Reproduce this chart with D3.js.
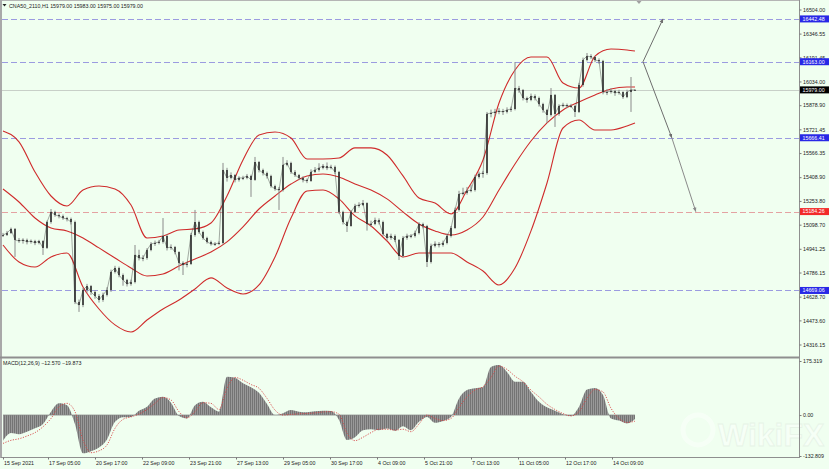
<!DOCTYPE html>
<html><head><meta charset="utf-8">
<script src="https://cdn.jsdelivr.net/npm/d3@7/dist/d3.min.js"></script>
<style>
body{margin:0;background:#f0fff0;}
svg{display:block;}
text{font-family:"Liberation Sans",Arial,sans-serif;}
</style></head>
<body><svg id="c" width="829" height="469"></svg>
<script>
// ---------- DATA (H1 candles resampled every 2 bars) ----------
const symbolName = "CNA50_2110,H1";
const firstOpen = 15025;
const closes = [15031,15044,15071,14999,14992,14999,14986,14992,14979,14992,14947,15116,15182,15162,15155,15142,15136,15116,14594,14574,
14672,14698,14659,14633,14607,14640,14672,14790,14816,14770,14738,14711,14724,14901,14881,14881,14933,14973,14979,14986,
15025,14947,14953,14920,14849,14836,14842,15031,15116,15051,15012,14986,14973,14973,14979,15456,15404,15423,15391,15404,
15404,15417,15391,15508,15456,15436,15417,15351,15332,15325,15489,15502,15443,15423,15404,15391,15384,15443,15456,15469,
15482,15469,15476,15443,15182,15116,15090,15182,15221,15227,15240,15103,15103,15129,15116,15038,15012,15025,14999,14894,
15012,15025,15025,15044,15103,15090,14855,14960,14973,14966,14979,15025,15077,15195,15299,15306,15319,15325,15410,15430,
15436,15822,15828,15835,15841,15835,15848,15854,15991,15978,15926,15913,15939,15926,15887,15848,15815,15946,15822,15874,
15880,15874,15874,15835,16011,16174,16200,16194,16174,16168,15965,15965,15972,15959,15965,15932,15965,15979,15979];
const highs = [15045,15058,15080,15077,15012,15010,15008,15002,15000,15000,14998,15125,15201,15190,15172,15165,15150,15145,15125,14610,
14685,14712,14705,14670,14645,14655,14690,14805,14830,14825,14780,14745,14740,14966,14935,14900,14945,14985,14995,15000,
15142,15035,14970,14960,14925,14860,14855,15045,15195,15125,15060,15020,14995,14985,14990,15502,15470,15440,15430,15415,
15418,15430,15425,15541,15515,15465,15445,15425,15360,15345,15541,15520,15510,15455,15430,15415,15400,15460,15475,15500,
15495,15505,15490,15485,15450,15190,15125,15195,15235,15245,15260,15245,15125,15145,15140,15125,15045,15040,15035,15005,
15025,15040,15038,15060,15115,15112,15098,14975,14990,14985,14995,15040,15090,15210,15320,15340,15345,15360,15425,15445,
15450,15835,15850,15855,15860,15855,15865,15870,16161,16005,15985,15935,15955,15950,15935,15895,15855,15991,15952,15885,
15895,15890,15888,15880,16025,16190,16220,16212,16200,16185,16175,15985,15990,15980,15980,15970,15980,16063,15983];
const lows = [15018,15025,15038,14888,14980,14975,14970,14975,14965,14970,14901,14940,15105,15150,15140,15130,15120,15100,14580,14529,
14560,14655,14640,14615,14590,14595,14630,14660,14780,14755,14700,14695,14700,14715,14865,14860,14870,14925,14960,14970,
14975,14930,14935,14905,14800,14770,14820,14835,15020,15040,15000,14975,14962,14960,14965,14970,15380,15395,15375,15380,
15390,15395,15280,15385,15440,15420,15400,15340,15320,15195,15315,15480,15430,15410,15390,15375,15370,15378,15435,15445,
15460,15455,15460,15430,15170,15100,15051,15085,15175,15210,15220,15060,15085,15095,15100,15025,14995,15000,14985,14868,
14885,15000,15010,15015,15035,15075,14822,14845,14950,14950,14955,14970,15015,15070,15185,15290,15295,15310,15315,15400,
15405,15425,15800,15810,15820,15815,15825,15835,15845,15960,15910,15895,15905,15910,15870,15830,15763,15805,15737,15810,
15865,15860,15862,15802,15828,16000,16165,16180,16160,16150,15950,15945,15955,15940,15948,15920,15925,15835,15975];

// Bollinger Bands (20,2) sampled every 4 bars
const bandIdx = [0,4,8,12,16,20,24,28,32,36,40,44,48,52,56,60,64,68,72,76,80,84,88,92,96,100,104,108,112,116,120,124,128,132,136,140,144,148,152,156,158];
const bbUpper = [15711,15640,15443,15286,15221,15325,15351,15332,15227,15012,15025,15064,15071,15110,15286,15521,15684,15704,15665,15528,
15528,15534,15600,15600,15554,15417,15273,15240,15169,15325,15521,15893,16109,16194,16194,16024,15991,16200,16246,16240,16233];
const bbMiddle = [15332,15247,15142,15077,15058,15012,14947,14881,14816,14764,14777,14829,14875,14920,14986,15084,15201,15286,15364,15417,
15430,15410,15364,15325,15267,15182,15103,15058,15031,15064,15149,15325,15495,15645,15763,15848,15900,15946,15985,15998,15998];
const bbLower = [14966,14855,14822,14888,14914,14692,14548,14444,14398,14476,14548,14607,14679,14751,14685,14646,14705,14888,15142,15319,
15325,15267,15156,15090,14992,14888,14914,14914,14914,14855,14796,14705,14816,15058,15371,15730,15782,15717,15717,15743,15763];

// MACD(12,26,9) sampled every 2 bars
const macdIdx = d3.range(0, 159, 2);
const macdMain = [-83,-58,-62,-54,-43,-29,11,38,32,-30,-124,-117,-105,-79,-22,-7,-6,14,27,54,
59,40,-3,-11,32,43,25,11,124,121,103,90,72,36,0,6,16,11,9,12,
14,13,-16,-81,-72,-49,-46,-49,-44,-51,-36,-49,-22,-6,-25,-19,-6,54,81,87,
90,156,162,140,108,108,75,43,25,14,3,-3,27,83,88,65,-11,-18,-27,-12.570];
const macdSignal = [-92,-82,-77,-68,-57,-38,-11,27,38,11,-81,-122,-116,-97,-43,-14,-6,3,18,38,
57,49,11,-9,11,40,38,18,87,122,113,99,87,54,16,0,2,4,5,7,
10,11,3,-59,-83,-72,-57,-46,-46,-49,-46,-54,-29,0,-11,-18,-11,25,59,81,
92,122,159,148,126,108,81,59,35,18,5,-3,11,54,83,75,22,-11,-24,-19.873];

// horizontal levels
const levelPrices = [16442.48, 16163.00, 15666.41, 15184.26, 14669.06];
const levelKinds  = ["blue","blue","blue","red","blue"];
const bidPrice = 15979.00;

// price & macd scale tick labels
const priceTicks = [16504.00,16346.55,16191.45,16034.00,15878.90,15721.45,15566.35,15408.90,15253.80,15098.70,14941.25,14786.15,14628.70,14473.60,14316.15];
const macdTicks = [175.319, 0, -132.809];
const macdTickLabels = ["175.319","0.00","-132.809"];

// time axis
const timeLabels = ["15 Sep 2021","17 Sep 05:00","20 Sep 17:00","22 Sep 09:00","23 Sep 21:00","27 Sep 13:00","29 Sep 05:00","30 Sep 17:00","4 Oct 09:00","5 Oct 21:00","7 Oct 13:00","11 Oct 05:00","12 Oct 17:00","14 Oct 09:00"];
const timeIdx = [0,11.25,23,34.75,46.5,58.25,70,81.75,93.5,105.25,117,128.75,140.5,152.25];

// forecast arrows: [fromIdx, fromPrice, toIdx, toPrice]
const arrows = [[160,16163.00,165,16442.48],[160,16163.00,167.2,15666.41],[167.2,15666.41,173.2,15184.26]];

// ---------- DRAW ----------
const svg = d3.select("#c");
const axisX = 799.5;
const x = d3.scaleLinear().domain([0,158]).range([3,635]);
const yP = d3.scaleLinear().domain([14316.15,16504]).range([344.5,9.5]);
const yM = d3.scaleLinear().domain([-132.809,175.319]).range([456,361]);
const FS = 5.3;

svg.append("rect").attr("width",829).attr("height",469).attr("fill","#f0fff0");

const defs = svg.append("defs");
defs.append("clipPath").attr("id","mainClip").append("rect").attr("x",2).attr("y",1).attr("width",797).attr("height",355);
defs.append("clipPath").attr("id","macdClip").append("rect").attr("x",2).attr("y",359).attr("width",797).attr("height",98);
const pat = defs.append("pattern").attr("id","stripes").attr("patternUnits","userSpaceOnUse").attr("width",2).attr("height",4);
pat.append("rect").attr("width",2).attr("height",4).attr("fill","#999999");
pat.append("rect").attr("width",1).attr("height",4).attr("fill","#747474");
["a1","a2","a3"].forEach((id,k)=>{
  defs.append("marker").attr("id",id).attr("viewBox","0 0 10 10").attr("refX",9).attr("refY",5)
   .attr("markerWidth",4.5).attr("markerHeight",4.5).attr("orient","auto")
   .append("path").attr("d","M0,1 L10,5 L0,9 Z").attr("fill",k===2?"#8a8a8a":"#6e6e6e");
});

// watermark
const wm = svg.append("g").attr("opacity",0.45);
wm.append("circle").attr("cx",698).attr("cy",430).attr("r",15).attr("fill","none").attr("stroke","#ffffff").attr("stroke-width",5);
wm.append("text").attr("x",718).attr("y",446).attr("font-size",32).attr("font-weight","bold")
  .attr("fill","#ffffff").attr("stroke","#dbe6db").attr("stroke-width",0.8).text("WikiFX");

const main = svg.append("g").attr("clip-path","url(#mainClip)");

// level lines
const levelColor = {blue:"#9b9be0", red:"#e4a2a2"};
main.selectAll("line.lvl").data(levelPrices).join("line")
  .attr("x1",2).attr("x2",axisX).attr("y1",d=>Math.round(yP(d))+0.5).attr("y2",d=>Math.round(yP(d))+0.5)
  .attr("stroke",(d,i)=>levelColor[levelKinds[i]]).attr("stroke-width",1.2).attr("stroke-dasharray","6,3");
main.append("line").attr("x1",2).attr("x2",axisX).attr("y1",Math.round(yP(bidPrice))+0.5).attr("y2",Math.round(yP(bidPrice))+0.5)
  .attr("stroke","#c8d0c8").attr("stroke-width",1);

// bollinger bands
const bandLine = arr => d3.line().x((d,i)=>x(bandIdx[i])).y(d=>yP(d)).curve(d3.curveMonotoneX)(arr);
[bbUpper,bbMiddle,bbLower].forEach(arr=>{
  main.append("path").attr("d",bandLine(arr)).attr("fill","none").attr("stroke","#cf2b2b").attr("stroke-width",1.1);
});

// candles
const opens = closes.map((c,i)=> i===0 ? firstOpen : closes[i-1]);
const cg = main.append("g");
cg.selectAll("line.w").data(closes).join("line")
  .attr("x1",(d,i)=>x(i)).attr("x2",(d,i)=>x(i))
  .attr("y1",(d,i)=>yP(highs[i])).attr("y2",(d,i)=>yP(lows[i]))
  .attr("stroke","#8a8a8a").attr("stroke-width",1);
cg.selectAll("rect.b").data(closes).join("rect")
  .attr("x",(d,i)=>x(i)-0.7).attr("width",1.4)
  .attr("y",(d,i)=>yP(Math.max(opens[i],d)))
  .attr("height",(d,i)=>Math.max(1, Math.abs(yP(opens[i])-yP(d))))
  .attr("fill","#1a1a1a");
cg.append("path").attr("d", d3.line().x((d,i)=>x(i)).y(d=>yP(d))(closes))
  .attr("fill","none").attr("stroke","#333").attr("stroke-width",0.6).attr("opacity",0.7);

// arrows
main.selectAll("line.arr").data(arrows).join("line")
  .attr("x1",d=>x(d[0])).attr("y1",d=>yP(d[1])).attr("x2",d=>x(d[2])).attr("y2",d=>yP(d[3]))
  .attr("stroke",(d,i)=>i===2?"#8a8a8a":"#6e6e6e").attr("stroke-width",1)
  .attr("marker-end",(d,i)=>`url(#a${i+1})`);

// shift marker
svg.append("path").attr("d",`M${x(159)-2.5},1 L${x(159)+2.5},1 L${x(159)},4 Z`).attr("fill","#a0a0a0");

// MACD panel
const macd = svg.append("g").attr("clip-path","url(#macdClip)");
macd.append("path").attr("d", d3.area().x((d,i)=>x(macdIdx[i])).y0(yM(0)).y1(d=>yM(d)).curve(d3.curveMonotoneX)(macdMain))
  .attr("fill","url(#stripes)");
macd.append("line").attr("x1",x(0)).attr("x2",x(158)).attr("y1",yM(0)).attr("y2",yM(0)).attr("stroke","#858585").attr("stroke-width",0.8);
macd.append("path").attr("d", d3.line().x((d,i)=>x(macdIdx[i])).y(d=>yM(d)).curve(d3.curveMonotoneX)(macdSignal))
  .attr("fill","none").attr("stroke","#d64545").attr("stroke-width",0.9).attr("stroke-dasharray","1.2,1.4");

// frame lines
svg.append("line").attr("x1",0).attr("x2",axisX).attr("y1",0.5).attr("y2",0.5).attr("stroke","#b5b5b5");
svg.append("line").attr("x1",1).attr("x2",1).attr("y1",0).attr("y2",458).attr("stroke","#a9a9a9").attr("stroke-width",2);
svg.append("line").attr("x1",0).attr("x2",axisX).attr("y1",357.5).attr("y2",357.5).attr("stroke","#8f8f8f").attr("stroke-width",2);

// price axis
const pAxis = svg.append("g").attr("transform",`translate(${axisX},0)`)
  .call(d3.axisRight(yP).tickValues(priceTicks).tickFormat(d3.format(".2f")).tickSize(2).tickPadding(1.5));
pAxis.select(".domain").attr("d","M0,0V458").attr("stroke","#8f8f8f");
pAxis.selectAll(".tick line").attr("stroke","#777");
pAxis.selectAll("text").attr("font-size",FS).attr("fill","#222").attr("font-family","Liberation Sans");

// MACD axis
const mAxis = svg.append("g").attr("transform",`translate(${axisX},0)`)
  .call(d3.axisRight(yM).tickValues(macdTicks).tickFormat((d,i)=>macdTickLabels[i]).tickSize(2).tickPadding(1.5));
mAxis.select(".domain").remove();
mAxis.selectAll(".tick line").attr("stroke","#777");
mAxis.selectAll("text").attr("font-size",FS).attr("fill","#222").attr("font-family","Liberation Sans");

// level price boxes
const boxColor = {blue:"#2828e6", red:"#f22a2a"};
const boxes = levelPrices.map((p,i)=>({p, c:boxColor[levelKinds[i]]})).concat([{p:bidPrice, c:"#000"}]);
const bx = svg.append("g");
bx.selectAll("rect").data(boxes).join("rect")
  .attr("x",axisX+0.5).attr("width",29).attr("y",d=>yP(d.p)-3.5).attr("height",7).attr("fill",d=>d.c);
bx.selectAll("text").data(boxes).join("text")
  .attr("x",axisX+3).attr("y",d=>yP(d.p)).attr("dy","0.35em").attr("font-size",FS).attr("fill","#fff")
  .text(d=>d3.format(".2f")(d.p));

// time axis
const tAxis = svg.append("g").attr("transform","translate(0,457.5)")
  .call(d3.axisBottom(x).tickValues(timeIdx).tickFormat((d,i)=>timeLabels[i]).tickSize(2).tickPadding(2));
tAxis.select(".domain").attr("d",`M1,0H${axisX}`).attr("stroke","#8f8f8f");
tAxis.selectAll(".tick line").attr("stroke","#777");
tAxis.selectAll("text").attr("font-size",FS).attr("fill","#222").attr("text-anchor","start").attr("dx",0.5).attr("font-family","Liberation Sans");

// header texts
const last = closes.length-1;
svg.append("path").attr("d","M2.5,4 L6.5,4 L4.5,6.5 Z").attr("fill","#222");
svg.append("text").attr("x",9).attr("y",7.5).attr("font-size",FS).attr("fill","#222")
  .text(`${symbolName}  ${d3.format(".2f")(opens[last])} ${d3.format(".2f")(highs[last])} ${d3.format(".2f")(lows[last])} ${d3.format(".2f")(closes[last])}`);
svg.append("text").attr("x",3).attr("y",365).attr("font-size",FS).attr("fill","#222")
  .text(`MACD(12,26,9) ${d3.format(".3f")(macdMain[macdMain.length-1])} ${d3.format(".3f")(macdSignal[macdSignal.length-1])}`);
</script></body></html>
